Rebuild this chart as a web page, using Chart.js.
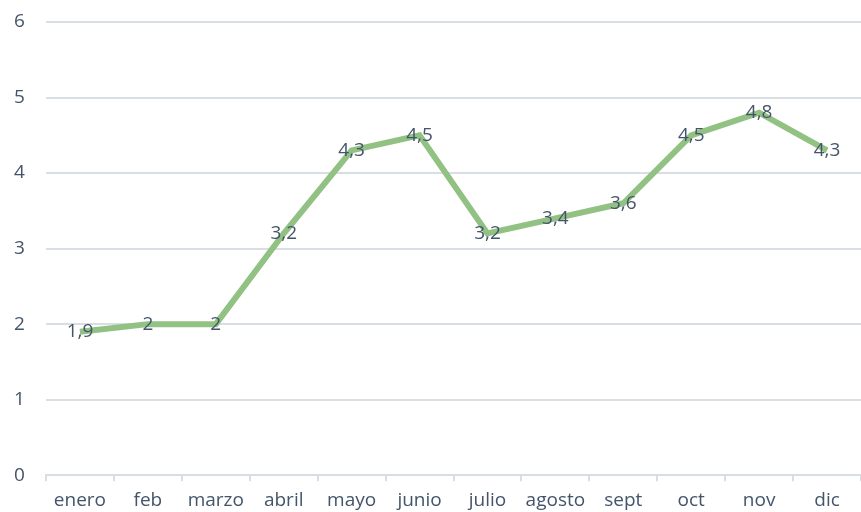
<!DOCTYPE html>
<html>
<head>
<meta charset="utf-8">
<script src="https://cdn.jsdelivr.net/npm/chart.js@4/dist/chart.umd.min.js"></script>
<style>
  html, body { margin: 0; padding: 0; background: #fff; }
  #wrap { width: 861px; height: 512px; }
</style>
</head>
<body>
<div id="wrap"><canvas id="chart" width="861" height="512"></canvas></div>
<script>
// months and the values
const months = ['enero', 'feb', 'marzo', 'abril', 'mayo', 'junio', 'julio', 'agosto', 'sept', 'oct', 'nov', 'dic'];
const values = [1.9, 2, 2, 3.2, 4.3, 4.5, 3.2, 3.4, 3.6, 4.5, 4.8, 4.3];
const yTicks = [0, 1, 2, 3, 4, 5, 6];

const textColor = '#44546A';
const gridColor = '#D9DEE4';
const fontFamily = "'Open Sans', 'Noto Sans', sans-serif";

// draws the value on top of every point, comma as decimal mark
const pointLabels = {
    id: 'pointLabels',
    afterDatasetsDraw(chart) {
        const ctx = chart.ctx;
        const meta = chart.getDatasetMeta(0);
        ctx.save();
        ctx.font = '19px ' + fontFamily;
        ctx.fillStyle = textColor;
        ctx.textAlign = 'center';
        ctx.textBaseline = 'middle';
        meta.data.forEach((pt, i) => {
            const txt = String(values[i]).replace('.', ',');
            ctx.fillText(txt, pt.x, pt.y);
        });
        ctx.restore();
    }
};

new Chart(document.getElementById('chart'), {
    type: 'line',
    data: {
        labels: months,
        datasets: [{
            data: values,
            borderColor: '#92C283',
            borderWidth: 6,
            pointRadius: 0,
            tension: 0,
            fill: false
        }]
    },
    options: {
        responsive: false,
        animation: false,
        layout: { padding: { top: 22, left: 14, right: 0, bottom: -8 } },
        plugins: {
            legend: { display: false },
            tooltip: { enabled: false }
        },
        scales: {
            x: {
                offset: true,
                grid: {
                    offset: true,
                    drawOnChartArea: false,
                    drawTicks: true,
                    tickLength: 6,
                    color: gridColor,
                    lineWidth: 2
                },
                border: { display: true, color: gridColor, width: 2 },
                ticks: {
                    color: textColor,
                    font: { size: 19, family: fontFamily },
                    padding: 8,
                    maxRotation: 0,
                    autoSkip: false
                }
            },
            y: {
                min: 0,
                max: 6,
                afterBuildTicks(axis) {
                    axis.ticks = yTicks.map(v => ({ value: v }));
                },
                afterFit(axis) {
                    axis.width = 32;
                },
                grid: {
                    color: gridColor,
                    lineWidth: 2,
                    drawTicks: false
                },
                border: { display: false },
                ticks: {
                    color: textColor,
                    font: { size: 19, family: fontFamily },
                    padding: 4,
                    crossAlign: 'far'
                }
            }
        }
    },
    plugins: [pointLabels]
});
</script>
</body>
</html>
